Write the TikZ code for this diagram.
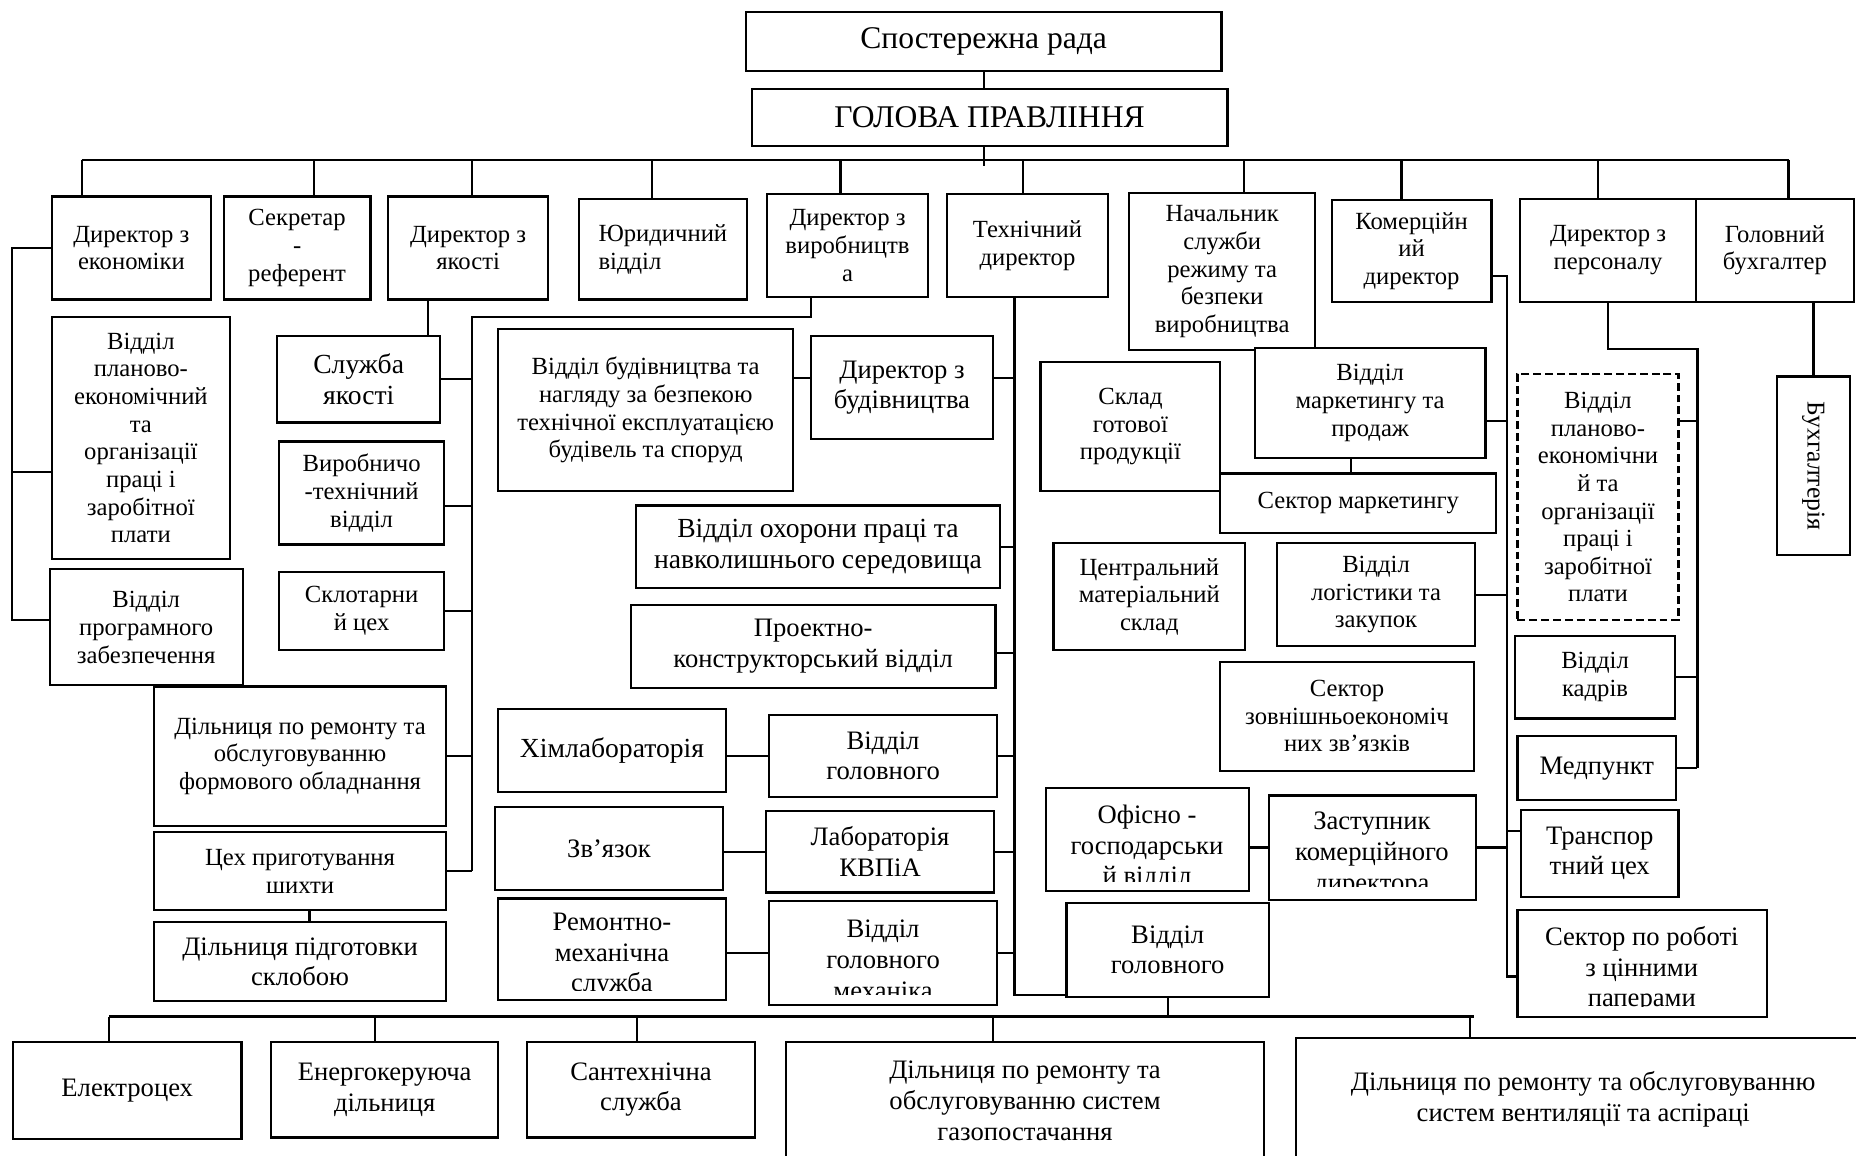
\documentclass[tikz,border=0pt]{standalone}
\usepackage{fontspec}
\setmainfont{Liberation Serif}
\usetikzlibrary{calc}
\tikzset{
  box/.style={draw,fill=white,line width=1.1pt,inner sep=0pt,align=center,font=\fontsize{12.5}{14}\selectfont},
  big/.style={font=\fontsize{13.5}{15.6}\selectfont},
  huge/.style={font=\fontsize{16}{19}\selectfont},
  link/.style={line width=1.1pt},
}
% box from corner (x1,y1) to corner (x2,y2)
\newcommand\bx[7][]{\node[box,#1,minimum width={(#4-#2)*0.6pt},minimum height={(#5-#3)*0.6pt}] (#6) at ({(#2+#4)/2},{(#3+#5)/2}) {#7};}
\begin{document}
\begin{tikzpicture}[x=0.6pt,y=-0.6pt]
\useasboundingbox (0,0) rectangle (1568,976);
% board and head
\bx[huge]{630}{10}{1032}{60}{sr}{Спостережна рада}
\bx[huge]{635}{75}{1037}{123}{gp}{ГОЛОВА ПРАВЛІННЯ}
% directors
\bx{44}{166}{178}{253}{deco}{Директор з\\економіки}
\bx{189}{166}{313}{253}{secr}{Секретар\\-\\референт}
\bx{328}{166}{463}{253}{dqual}{Директор з\\якості}
\bx[align=left]{489}{168}{631}{253}{jur}{Юридичний\\відділ}
\bx{648}{164}{784}{251}{dvyr}{Директор з\\виробництв\\а}
\bx{800}{164}{936}{251}{tech}{Технічний\\директор}
\bx{954}{163}{1111}{296}{nach}{Начальник\\служби\\режиму та\\безпеки\\виробництва}
\bx{1125}{169}{1260}{255}{kom}{Комерційн\\ий\\директор}
\bx{1284}{168}{1433}{255}{pers}{Директор з\\персоналу}
\bx{1433}{168}{1566}{255}{buhg}{Головний\\бухгалтер}
% economics
\bx{44}{268}{194}{472}{vplan}{Відділ\\планово-\\економічний\\та\\організації\\праці і\\заробітної\\плати}
\bx{42}{481}{205}{579}{vprog}{Відділ\\програмного\\забезпечення}
% production, left part
\bx[font=\fontsize{14}{16}\selectfont]{234}{284}{372}{357}{squal}{Служба\\якості}
\bx{236}{373}{375}{460}{vtech}{Виробничо\\-технічний\\відділ}
\bx{236}{483}{375}{549}{sklo}{Склотарни\\й цех}
\bx{130}{580}{377}{698}{drem}{Дільниця по ремонту та\\обслуговуванню\\формового обладнання}
\bx{130}{703}{377}{769}{tsekh}{Цех приготування\\шихти}
\bx[big]{130}{779}{377}{846}{dskl}{Дільниця підготовки\\склобою}
% technical
\bx{421}{278}{670}{415}{vbud}{Відділ будівництва та\\нагляду за безпекою\\технічної експлуатацією\\будівель та споруд}
\bx[big]{685}{284}{839}{371}{dbud}{Директор з\\будівництва}
\bx[font=\fontsize{14}{15.6}\selectfont]{537}{427}{845}{497}{vohor}{Відділ охорони праці та\\навколишнього середовища}
\bx[big]{533}{511}{841}{581}{proekt}{Проектно-\\конструкторський відділ}
\bx[font=\fontsize{14}{16}\selectfont]{421}{599}{613}{669}{khim}{Хімлабораторія}
\bx[big]{650}{604}{842}{673}{vgol}{Відділ\\головного}
\bx[big]{418}{682}{611}{752}{zvyaz}{Зв’язок}
\bx[big]{647}{685}{840}{754}{lab}{Лабораторія\\КВПіА}
\bx{421}{759}{613}{845}{remmekh}{}
\begin{scope}
  \clip (421,759) rectangle (613,837);
  \node[big,align=center] (remmekh-t) at (517,807) {Ремонтно-\\механічна\\служба};
\end{scope}
\bx{650}{761}{842}{849}{vgolmekh}{}
\begin{scope}
  \clip (650,761) rectangle (842,840);
  \node[big,align=center] (vgolmekh-t) at (746,811) {Відділ\\головного\\механіка};
\end{scope}
% commercial
\bx{879}{306}{1031}{415}{sklad}{Склад\\готової\\продукції}
\bx{1060}{294}{1255}{387}{vmark}{Відділ\\маркетингу та\\продаж}
\bx{1031}{400}{1264}{450}{smark}{Сектор маркетингу}
\bx{890}{459}{1052}{549}{cms}{Центральний\\матеріальний\\склад}
\bx{1079}{459}{1246}{546}{vlog}{Відділ\\логістики та\\закупок}
\bx{1031}{559}{1245}{651}{szed}{Сектор\\зовнішньоекономіч\\них зв’язків}
\bx{884}{666}{1055}{753}{ofis}{}
\begin{scope}
  \clip (884,666) rectangle (1055,745);
  \node[big,align=center] (ofis-t) at (969,716) {Офісно -\\господарськи\\й відділ};
\end{scope}
\bx{1072}{672}{1247}{760}{zast}{}
\begin{scope}
  \clip (1072,672) rectangle (1247,749);
  \node[big,align=center] (zast-t) at (1159,722) {Заступник\\комерційного\\директора};
\end{scope}
\bx[big]{901}{763}{1072}{842}{vgol2}{Відділ\\головного}
% personnel
\bx[dash pattern=on 4pt off 2pt]{1282}{316}{1418}{524}{vplan2}{Відділ\\планово-\\економічни\\й та\\організації\\праці і\\заробітної\\плати}
\bx{1280}{537}{1415}{607}{kadr}{Відділ\\кадрів}
\bx[big]{1282}{622}{1416}{676}{medp}{Медпункт}
\bx[big]{1285}{684}{1418}{758}{transp}{Транспор\\тний цех}
\bx{1282}{769}{1493}{859}{spap}{}
\begin{scope}
  \clip (1282,769) rectangle (1493,850);
  \node[big,align=center] (spap-t) at (1387,819) {Сектор по роботі\\з цінними\\паперами};
\end{scope}
\bx{1501}{318}{1563}{469}{buh}{}
\node[rotate=-90,font=\fontsize{13}{15}\selectfont] (buh-t) at (buh) {Бухгалтерія};
% bottom row
\bx[big]{11}{880}{204}{962}{elec}{Електроцех}
\bx[big]{229}{880}{421}{961}{energ}{Енергокеруюча\\дільниця}
\bx[big]{445}{880}{638}{961}{santekh}{Сантехнічна\\служба}
\bx[big]{664}{880}{1068}{980}{gaz}{Дільниця по ремонту та\\обслуговуванню систем\\газопостачання}
\bx[big]{1095}{877}{1580}{981}{vent}{Дільниця по ремонту та обслуговуванню\\систем вентиляції та аспіраці}

% top links
\draw[link] (sr.south) -- (sr.south |- gp.north);
\foreach \xd/\nd in {69/deco,265/secr,399/dqual,551/jur,710/dvyr,864/tech,1051/nach,1184/kom,1350/pers,1511/buhg}
  \draw[link] (\xd,135) coordinate (t\nd) -- (t\nd |- \nd.north);
\draw[link] (tdeco) -- (tbuhg);
\draw[link] (sr.south |- gp.south) -- ($(sr.south |- tdeco)+(0,5)$);
% economics
\coordinate (ecoL) at (10,0);
\draw[link] (deco.west) -- (deco.west -| ecoL) |- ($(vprog.west)+(0,-6)$);
\draw[link] ($(vplan.west)+(0,29)$) coordinate (vpl) -- (vpl -| ecoL);
% quality
\draw[link] ($(dqual.south)+(-34,0)$) coordinate (dq) -- (dq |- squal.north);
% production
\coordinate (prodL) at (399,268);
\draw[link] ($(dvyr.south)+(-31,0)$) |- (prodL) -- (prodL |- tsekh.east);
\foreach \nd in {squal,sklo,drem,tsekh}
  \draw[link] (\nd.east) -- (\nd.east -| prodL);
\draw[link] ($(vtech.east)+(0,11)$) coordinate (vt) -- (vt -| prodL);
\draw[link] ($(tsekh.south)+(8,0)$) coordinate (ts) -- (ts |- dskl.north);
% technical
\draw[link] ($(tech.south)+(-11,0)$) coordinate (techL) -- ($(techL |- vgol2.south west)+(0,-2)$) -- ($(vgol2.south west)+(0,-2)$);
\foreach \nd in {vohor,vgol,lab,vgolmekh}
  \draw[link] (\nd.east) -- (\nd.east -| techL);
\draw[link] ($(dbud.east)+(0,-8)$) coordinate (db) -- (db -| techL);
\draw[link] ($(proekt.east)+(0,6)$) coordinate (pk) -- (pk -| techL);
\draw[link] ($(dbud.west)+(0,-8)$) coordinate (db2) -- (db2 -| vbud.east);
\draw[link] (vgol.west) -- (vgol.west -| khim.east);
\draw[link] (lab.west) -- (lab.west -| zvyaz.east);
\draw[link] (vgolmekh.west) -- (vgolmekh.west -| remmekh.east);
% commercial
\coordinate (komL) at (1273,0);
\draw[link] ($(kom.east)+(0,21)$) coordinate (k1) -- (k1 -| komL) |- ($(spap.west)+(0,11)$);
\draw[link] ($(vmark.east)+(0,15)$) coordinate (k2) -- (k2 -| komL);
\draw[link] ($(transp.west)+(0,-19)$) coordinate (k3) -- (k3 -| komL);
\foreach \nd in {vlog,zast}
  \draw[link] (\nd.east) -- (\nd.east -| komL);
\draw[link] (zast.west) -- (zast.west -| ofis.east);
\draw[link] ($(vmark.south)+(-16,0)$) coordinate (vm) -- (vm |- smark.north);
% personnel
\coordinate (persL) at (1434,0);
\draw[link] (pers.south) -- ++(0,39) -| (persL |- medp.east);
\draw[link] ($(vplan2.east)+(0,-64)$) coordinate (pp) -- (pp -| persL);
\foreach \nd in {kadr,medp}
  \draw[link] (\nd.east) -- (\nd.east -| persL);
% accounting
\draw[link] (buh.north) -- (buh.north |- buhg.south);
% bottom links
\foreach \xd/\nd in {92/elec,317/energ,538/santekh,839/gaz,1242/vent}
  \draw[link] (\xd,859) coordinate (b\nd) -- (b\nd |- \nd.north);
\draw[link,line width=1.5pt] (belec) -- ($(bvent)+(3,0)$);
\draw[link] (vgol2.south) -- (vgol2.south |- belec);
\end{tikzpicture}
\end{document}
